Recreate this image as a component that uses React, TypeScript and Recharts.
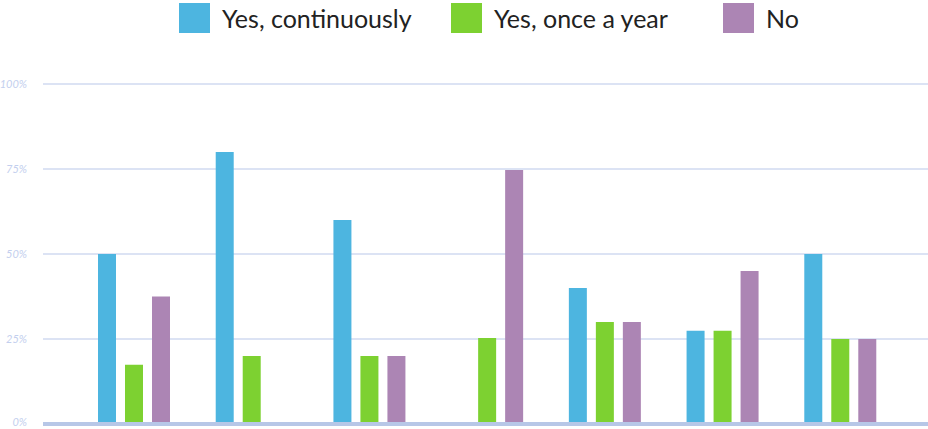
import { BarChart, Bar, XAxis, YAxis, CartesianGrid, ReferenceLine } from 'recharts';

const categories = ['1', '2', '3', '4', '5', '6', '7'];
const continuously = [50, 80, 60, null, 40, 27.4, 50];
const onceAYear = [17.4, 20, 20, 25.3, 30, 27.4, 25];
const no = [37.5, null, 20, 74.7, 30, 45, 25];
const yTicks = [0, 25, 50, 75, 100];

const series = [
  { key: 'continuously', name: 'Yes, continuously', color: '#4db5e0' },
  { key: 'once', name: 'Yes, once a year', color: '#7dd131' },
  { key: 'no', name: 'No', color: '#ac85b4' }
];

const data = categories.map((c, i) => ({
  name: c,
  continuously: continuously[i],
  once: onceAYear[i],
  no: no[i]
}));

const font = 'Lato, "Noto Sans", sans-serif';

// y tick, kept inside the picture at the bottom edge
function YTick(props: any) {
  const { x, y, payload } = props;
  return (
    <text
      x={x}
      y={Math.min(y, 422)}
      dy={4}
      textAnchor="end"
      fontSize={11}
      fontStyle="italic"
      fontFamily={font}
      fill="#c3cfee"
    >
      {payload.value}%
    </text>
  );
}

export default function App() {
  return (
    <div style={{ position: 'absolute', left: 0, top: 0, width: 928, height: 429, background: '#fff', fontFamily: font }}>
      {/* legend */}
      <div style={{ position: 'absolute', left: 179, top: 3, display: 'flex' }}>
        {series.map((s) => (
          <div key={s.key} style={{ width: 272, display: 'flex', alignItems: 'center' }}>
            <div style={{ width: 31, height: 30, background: s.color, flexShrink: 0 }} />
            <span style={{ marginLeft: 12, fontSize: 25, color: '#222', whiteSpace: 'nowrap' }}>{s.name}</span>
          </div>
        ))}
      </div>

      <BarChart
        width={928}
        height={429}
        data={data}
        margin={{ top: 84, right: 0, left: 0, bottom: 5 }}
        barSize={18}
        barGap={9}
      >
        <CartesianGrid vertical={false} stroke="#dce3f4" strokeWidth={2} />
        <XAxis
          dataKey="name"
          tick={false}
          tickLine={false}
          axisLine={false}
          height={0}
          padding={{ left: 32, right: 29 }}
        />
        <YAxis
          width={43}
          domain={[0, 100]}
          ticks={yTicks}
          interval={0}
          axisLine={false}
          tickLine={false}
          tickMargin={10}
          tick={<YTick />}
        />
        {series.map((s) => (
          <Bar key={s.key} dataKey={s.key} name={s.name} fill={s.color} isAnimationActive={false} />
        ))}
        <ReferenceLine y={0} stroke="#b7c7e7" strokeWidth={4} />
      </BarChart>
    </div>
  );
}
